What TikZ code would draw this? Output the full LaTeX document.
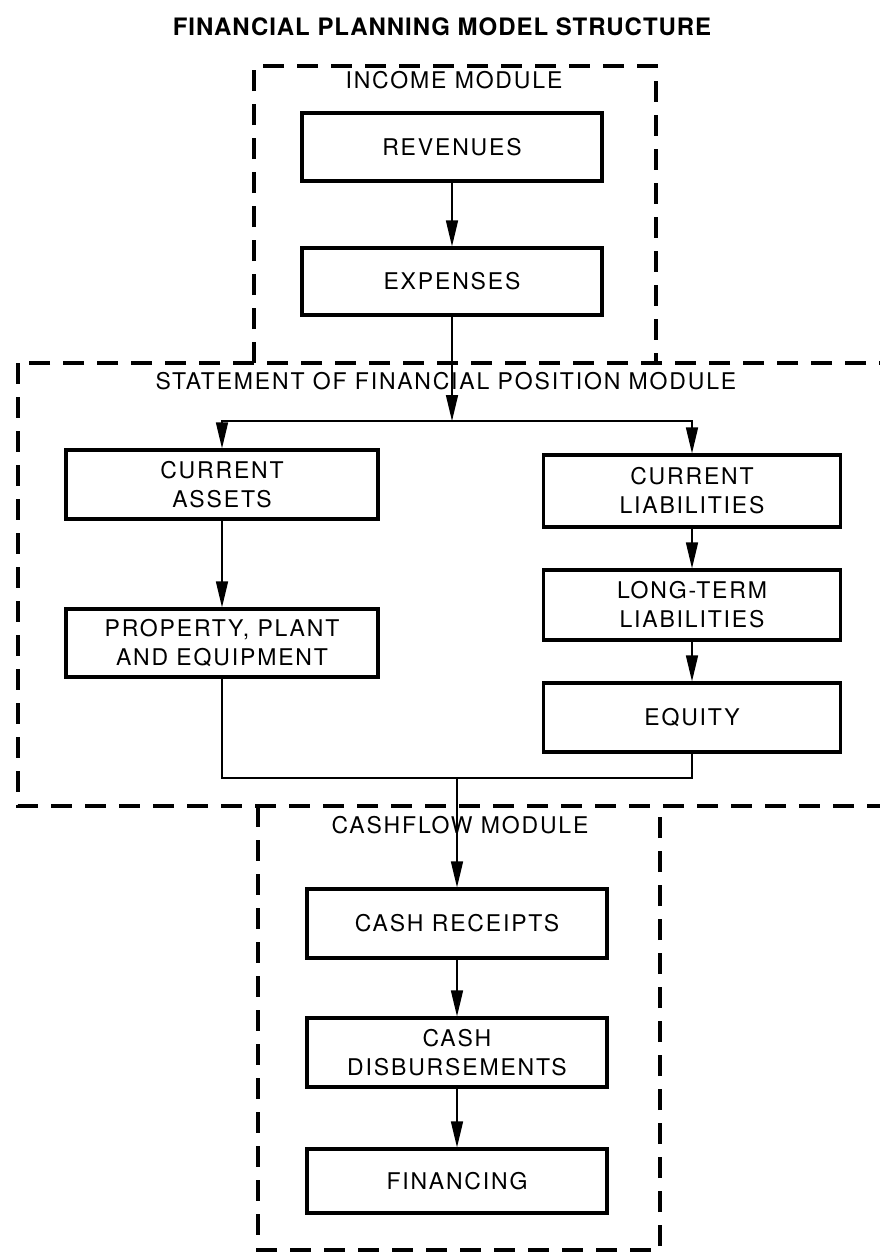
\documentclass[tikz,border=0pt]{standalone}
\usepackage{fontspec}
\setmainfont{TeX Gyre Heros}
\newfontfamily\labelfont[LetterSpace=8]{TeX Gyre Heros}
\newfontfamily\headfont[LetterSpace=4]{TeX Gyre Heros}
\usetikzlibrary{arrows.meta}

\begin{document}
\begin{tikzpicture}[x=1pt,y=-1pt,
  box/.style={draw, line width=3.2pt, minimum width=300pt, inner sep=0pt,
              align=center, font=\labelfont\fontsize{23}{29}\selectfont},
  flow/.style={line width=1.6pt, -{Triangle[length=26pt,width=12pt]}},
  link/.style={line width=1.6pt},
  module/.style={line width=3.5pt, dash pattern=on 21pt off 13pt},
  modlabel/.style={font=\labelfont\fontsize{23}{29}\selectfont, inner sep=0pt}
]
\useasboundingbox (0,0) rectangle (880,1256);
\clip (0,0) rectangle (880,1256);
\fill[white] (0,0) rectangle (880,1256);

% title
\node[font=\headfont\bfseries\fontsize{24}{29}\selectfont, inner sep=0pt] (title) at (442,27)
  {FINANCIAL PLANNING MODEL STRUCTURE};

% module frames
\draw[module] (254,363) -- (254,66) -- (656,66) -- (656,363);
\draw[module] (18,363) rectangle (900,806);
\draw[module] (258,806) -- (258,1250) -- (660,1250) -- (660,806);

% module labels
\node[modlabel] (incl) at (454,80) {INCOME MODULE};
\node[modlabel] (sfpl) at (446,381) {STATEMENT OF FINANCIAL POSITION MODULE};
\node[modlabel] (cfl)  at (460,825) {CASHFLOW MODULE};

% income module
\node[box, minimum height=68pt] (rev) at (452,147) {REVENUES};
\node[box, minimum height=67pt] (exp) at (452,281.5) {EXPENSES};

% statement of financial position module
\node[box, minimum width=312pt, minimum height=69pt] (ca)  at (222,484.5) {CURRENT\\ASSETS};
\node[box, minimum width=312pt, minimum height=68pt] (ppe) at (222,643) {PROPERTY, PLANT\\AND EQUIPMENT};
\node[box, minimum width=297pt, minimum height=72pt] (cl)  at (692,491) {CURRENT\\LIABILITIES};
\node[box, minimum width=297pt, minimum height=70pt] (ltl) at (692,605) {LONG-TERM\\LIABILITIES};
\node[box, minimum width=297pt, minimum height=69pt] (eq)  at (692,717.5) {EQUITY};

% cashflow module
\node[box, minimum height=69pt] (cr)  at (457,923.5) {CASH RECEIPTS};
\node[box, minimum height=69pt] (cd)  at (457,1052.5) {CASH\\DISBURSEMENTS};
\node[box, minimum height=64pt] (fin) at (457,1181) {FINANCING};

% connectors
\coordinate (split) at (452,421);
\coordinate (merge) at (457,778);

\draw[flow] (rev) -- (exp);
\draw[flow] (exp) -- (split);
\draw[flow] (split) -| (ca);
\draw[flow] (split) -| (cl);
\draw[flow] (ca) -- (ppe);
\draw[flow] (cl) -- (ltl);
\draw[flow] (ltl) -- (eq);
\draw[link] (ppe) |- (merge);
\draw[link] (eq) |- (merge);
\draw[flow] (merge) -- (cr);
\draw[flow] (cr) -- (cd);
\draw[flow] (cd) -- (fin);
\end{tikzpicture}
\end{document}
